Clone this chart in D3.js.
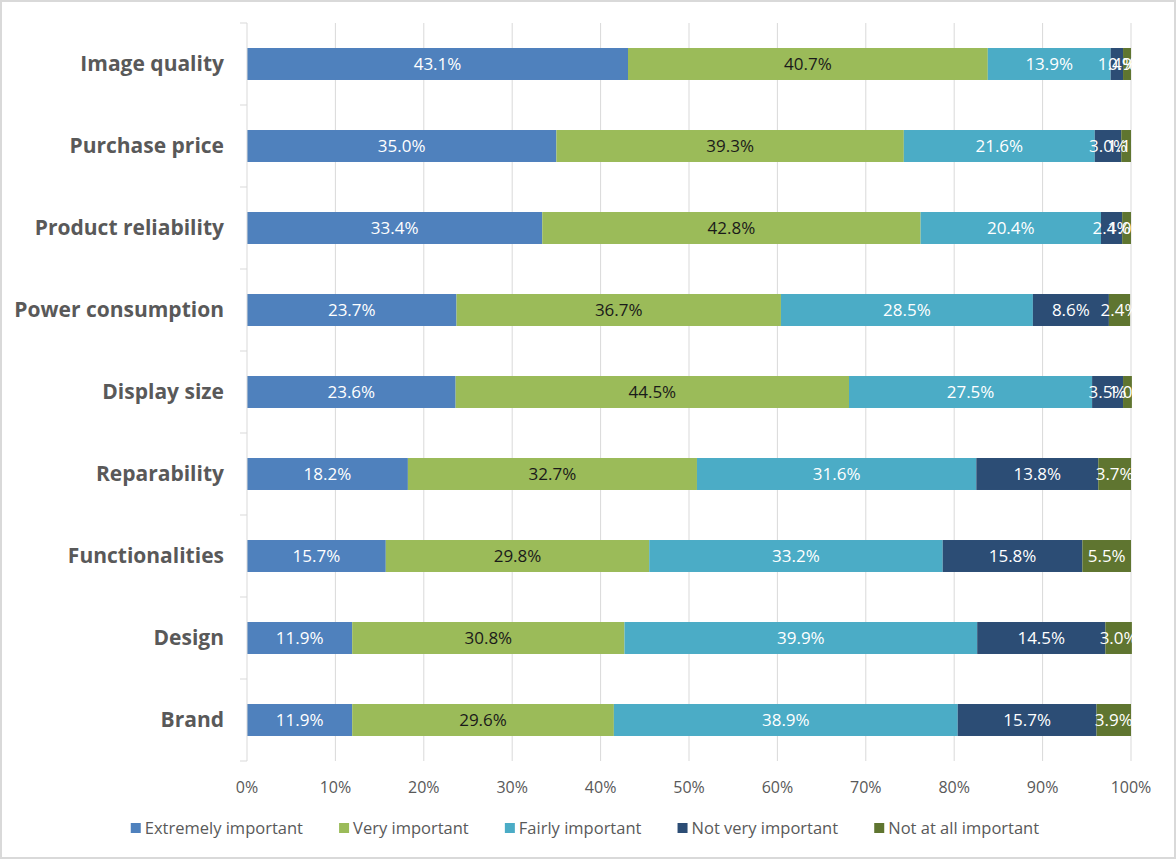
<!DOCTYPE html>
<html>
<head>
<meta charset="utf-8">
<script src="https://cdn.jsdelivr.net/npm/d3@7"></script>
<style>
  body { margin: 0; background: #fff; }
  svg { display: block; font-family: "Open Sans", "Liberation Sans", sans-serif; }
</style>
</head>
<body>
<script>
var categories = ["Image quality", "Purchase price", "Product reliability", "Power consumption",
                  "Display size", "Reparability", "Functionalities", "Design", "Brand"];

var seriesNames = ["Extremely important", "Very important", "Fairly important",
                   "Not very important", "Not at all important"];

var extremely = [43.1, 35.0, 33.4, 23.7, 23.6, 18.2, 15.7, 11.9, 11.9];
var very      = [40.7, 39.3, 42.8, 36.7, 44.5, 32.7, 29.8, 30.8, 29.6];
var fairly    = [13.9, 21.6, 20.4, 28.5, 27.5, 31.6, 33.2, 39.9, 38.9];
var notVery   = [1.4, 3.0, 2.4, 8.6, 3.5, 13.8, 15.8, 14.5, 15.7];
var notAtAll  = [0.9, 1.1, 1.0, 2.4, 1.0, 3.7, 5.5, 3.0, 3.9];

var xTicks = [0, 10, 20, 30, 40, 50, 60, 70, 80, 90, 100];

var colors = ["#4f81bd", "#9bbb59", "#4bacc6", "#2c4d75", "#5f7530"];
var labelColors = ["#ffffff", "#1a1a1a", "#ffffff", "#ffffff", "#ffffff"];

var W = 1176, H = 859;
var margin = {left: 247, right: 45, top: 23, bottom: 98};

var rows = categories.map(function(c, i) {
  return {cat: c, s0: extremely[i], s1: very[i], s2: fairly[i], s3: notVery[i], s4: notAtAll[i]};
});
var stack = d3.stack().keys(["s0", "s1", "s2", "s3", "s4"])(rows);

var svg = d3.select("body").append("svg")
    .attr("width", W)
    .attr("height", H);

// outer frame
svg.append("rect")
    .attr("x", 1).attr("y", 1)
    .attr("width", W - 2).attr("height", H - 2)
    .attr("fill", "#fff")
    .attr("stroke", "#d9d9d9")
    .attr("stroke-width", 2);

var x = d3.scaleLinear().domain([0, 100]).range([margin.left, W - margin.right]);
var y = d3.scaleBand().domain(categories)
    .range([margin.top, H - margin.bottom])
    .paddingInner(0.61).paddingOuter(0.305);

// gridlines
svg.append("g")
    .selectAll("line")
    .data(xTicks.slice(1))
    .join("line")
    .attr("x1", function(d) { return x(d); })
    .attr("x2", function(d) { return x(d); })
    .attr("y1", margin.top)
    .attr("y2", H - margin.bottom)
    .attr("stroke", "#d9d9d9")
    .attr("stroke-width", 1);

// bars
var layer = svg.append("g")
    .selectAll("g")
    .data(stack)
    .join("g")
    .attr("fill", function(d, i) { return colors[i]; });

layer.selectAll("rect")
    .data(function(d) { return d; })
    .join("rect")
    .attr("x", function(d) { return x(d[0]); })
    .attr("width", function(d) { return x(d[1]) - x(d[0]); })
    .attr("y", function(d) { return y(d.data.cat); })
    .attr("height", y.bandwidth());

// value labels (small segments overlap, as in the original)
stack.forEach(function(s, i) {
  svg.append("g")
      .selectAll("text")
      .data(s)
      .join("text")
      .attr("x", function(d) { return (x(d[0]) + x(d[1])) / 2; })
      .attr("y", function(d) { return y(d.data.cat) + y.bandwidth() / 2; })
      .attr("dy", "0.35em")
      .attr("text-anchor", "middle")
      .attr("fill", labelColors[i])
      .style("font-size", "17px")
      .text(function(d) { return (d[1] - d[0]).toFixed(1) + "%"; });
});

// y axis
var yAxis = svg.append("g")
    .attr("transform", "translate(" + margin.left + ",0)");
yAxis.append("line")
    .attr("x1", 0).attr("x2", 0)
    .attr("y1", margin.top).attr("y2", H - margin.bottom)
    .attr("stroke", "#d9d9d9");
var step = y.step();
yAxis.selectAll(".tick")
    .data(d3.range(categories.length + 1))
    .join("line")
    .attr("x1", -7).attr("x2", 0)
    .attr("y1", function(d) { return margin.top + d * step; })
    .attr("y2", function(d) { return margin.top + d * step; })
    .attr("stroke", "#d9d9d9");
yAxis.selectAll("text")
    .data(categories)
    .join("text")
    .attr("x", -23)
    .attr("y", function(d) { return y(d) + y.bandwidth() / 2; })
    .attr("dy", "0.35em")
    .attr("text-anchor", "end")
    .attr("fill", "#595959")
    .style("font-size", "21px")
    .style("font-weight", "bold")
    .text(function(d) { return d; });

// x tick labels
svg.append("g")
    .selectAll("text")
    .data(xTicks)
    .join("text")
    .attr("x", function(d) { return x(d); })
    .attr("y", 787)
    .attr("dy", "0.35em")
    .attr("text-anchor", "middle")
    .attr("fill", "#595959")
    .style("font-size", "16px")
    .text(function(d) { return d + "%"; });

// legend
var legend = svg.append("g");
var items = legend.selectAll("g")
    .data(seriesNames)
    .join("g");
items.append("rect")
    .attr("width", 10).attr("height", 10)
    .attr("y", -5)
    .attr("fill", function(d, i) { return colors[i]; });
items.append("text")
    .attr("x", 14)
    .attr("dy", "0.35em")
    .attr("fill", "#595959")
    .style("font-size", "16.5px")
    .text(function(d) { return d; });
var pos = 0, gap = 36;
items.each(function() {
  var w = this.getBBox().width;
  d3.select(this).attr("data-x", pos);
  pos += w + gap;
});
var total = pos - gap;
var start = W / 2 - total / 2 - 3;
items.attr("transform", function() {
  return "translate(" + (start + (+this.getAttribute("data-x"))) + ",828)";
});
</script>
</body>
</html>
